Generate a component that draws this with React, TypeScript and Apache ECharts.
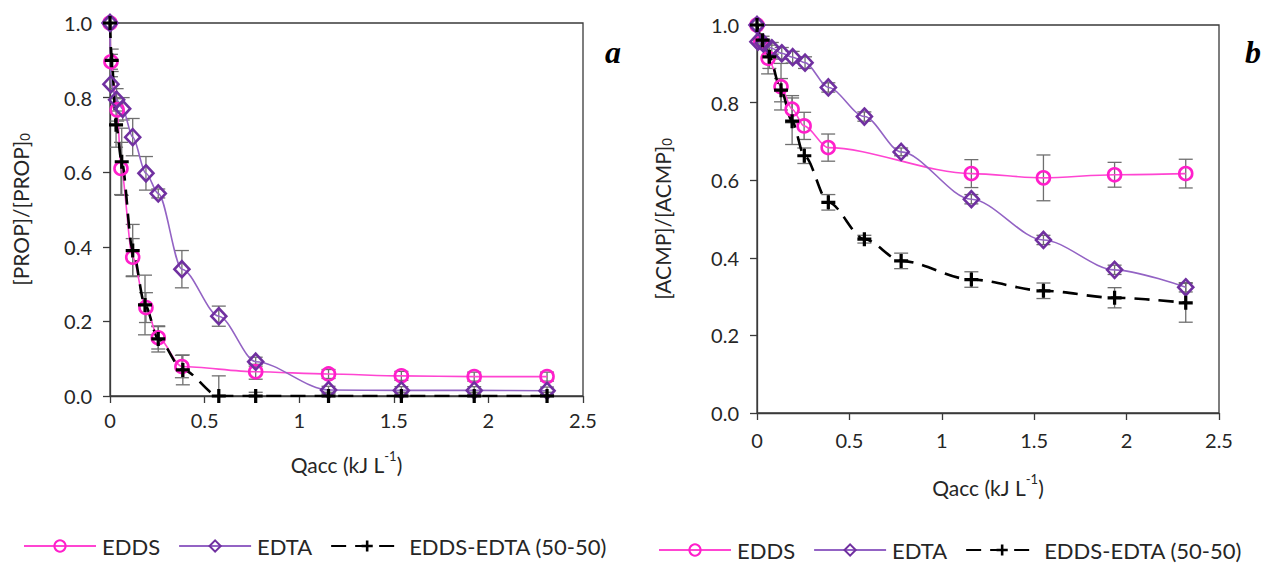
import React, { useEffect, useRef } from 'react';
import * as echarts from 'echarts';

// ---- Panel a: [PROP]/[PROP]0 vs accumulated energy ----
const propEddsX = [0, 0.005, 0.038, 0.058, 0.12, 0.19, 0.255, 0.38, 0.77, 1.155, 1.54, 1.925, 2.31];
const propEddsY = [1.0, 0.896, 0.767, 0.61, 0.372, 0.237, 0.156, 0.079, 0.065, 0.059, 0.054, 0.052, 0.052];
const propEddsErr = [0, 0.02, 0.03, 0.07, 0.05, 0.04, 0.03, 0.03, 0.02, 0.012, 0.012, 0.012, 0.012];

const propEdtaX = [0, 0.005, 0.035, 0.067, 0.12, 0.19, 0.255, 0.38, 0.575, 0.77, 1.155, 1.54, 1.925, 2.31];
const propEdtaY = [1.0, 0.836, 0.794, 0.77, 0.694, 0.597, 0.543, 0.34, 0.214, 0.092, 0.016, 0.015, 0.015, 0.014];
const propEdtaErr = [0, 0.02, 0.03, 0.03, 0.05, 0.045, 0.012, 0.05, 0.027, 0.012, 0.01, 0.01, 0.01, 0.01];

const propMixX = [0, 0.009, 0.032, 0.062, 0.12, 0.185, 0.255, 0.385, 0.575, 0.77, 1.155, 1.54, 1.925, 2.31];
const propMixY = [1.0, 0.9, 0.727, 0.628, 0.39, 0.244, 0.153, 0.07, 0.0, 0.0, 0.0, 0.0, 0.0, 0.0];
const propMixErr = [0, 0.03, 0.06, 0.09, 0.07, 0.08, 0.035, 0.04, 0.054, 0.01, 0.01, 0.01, 0.01, 0.01];

// ---- Panel b: [ACMP]/[ACMP]0 vs accumulated energy ----
const acmpEddsX = [0, 0.02, 0.06, 0.13, 0.19, 0.255, 0.385, 1.16, 1.55, 1.935, 2.32];
const acmpEddsY = [1.0, 0.955, 0.914, 0.841, 0.783, 0.74, 0.684, 0.617, 0.606, 0.614, 0.617];
const acmpEddsErr = [0, 0.01, 0.04, 0.06, 0.035, 0.035, 0.035, 0.036, 0.059, 0.032, 0.037];

const acmpEdtaX = [0, 0.005, 0.034, 0.08, 0.134, 0.193, 0.26, 0.386, 0.581, 0.78, 1.16, 1.55, 1.935, 2.32];
const acmpEdtaY = [1.0, 0.957, 0.953, 0.94, 0.927, 0.917, 0.903, 0.839, 0.764, 0.673, 0.551, 0.446, 0.369, 0.324];
const acmpEdtaErr = [0, 0.01, 0.01, 0.015, 0.015, 0.015, 0.015, 0.012, 0.012, 0.01, 0.012, 0.012, 0.012, 0.012];

const acmpMixX = [0, 0.03, 0.067, 0.13, 0.19, 0.256, 0.386, 0.581, 0.78, 1.16, 1.55, 1.935, 2.32];
const acmpMixY = [1.0, 0.961, 0.918, 0.832, 0.752, 0.663, 0.543, 0.448, 0.392, 0.344, 0.315, 0.297, 0.284];
const acmpMixErr = [0, 0.01, 0.03, 0.03, 0.06, 0.02, 0.02, 0.01, 0.02, 0.02, 0.02, 0.026, 0.05];

const seriesNames = ['EDDS', 'EDTA', 'EDDS-EDTA (50-50)'];
const panelLetters = ['a', 'b'];

const PINK_LINE = '#FF45D2';
const PINK_MARK = '#FF1FCB';
const PURPLE_LINE = '#9363C4';
const PURPLE_MARK = '#7030A0';
const TEXT = '#262626';
const AXIS = '#3a3a3a';
const FONT = 'Lato';

const pairs = (xs: number[], ys: number[]) => xs.map((x, i) => [x, ys[i]]);
const triples = (xs: number[], ys: number[], es: number[]) => xs.map((x, i) => [x, ys[i], es[i]]);

const PLUS = 'path://M5,0H8V5H13V8H8V13H5V8H0V5H5Z';

function errorBars(name: string, idx: number, data: number[][]) {
  return {
    type: 'custom',
    name,
    xAxisIndex: idx,
    yAxisIndex: idx,
    data,
    clip: true,
    silent: true,
    z: 1,
    encode: { x: 0, y: 1 },
    renderItem: (_params: any, api: any) => {
      const x = api.value(0);
      const y = api.value(1);
      const e = api.value(2);
      if (!e) return null;
      const top = api.coord([x, y + e]);
      const bot = api.coord([x, y - e]);
      const h = 7;
      const style = { stroke: '#6f6f6f', lineWidth: 1.3, fill: null };
      return {
        type: 'group',
        children: [
          { type: 'line', shape: { x1: top[0], y1: top[1], x2: bot[0], y2: bot[1] }, style },
          { type: 'line', shape: { x1: top[0] - h, y1: top[1], x2: top[0] + h, y2: top[1] }, style },
          { type: 'line', shape: { x1: bot[0] - h, y1: bot[1], x2: bot[0] + h, y2: bot[1] }, style },
        ],
      };
    },
  };
}

function lineSeries(kind: number, idx: number, data: number[][]) {
  const base: any = {
    type: 'line',
    name: seriesNames[kind],
    xAxisIndex: idx,
    yAxisIndex: idx,
    data,
    smooth: 0.3,
    smoothMonotone: 'x',
    showSymbol: true,
    clip: true,
    z: 3,
  };
  if (kind === 0) {
    base.symbol = 'circle';
    base.symbolSize = 13;
    base.lineStyle = { color: PINK_LINE, width: 1.6 };
    base.itemStyle = { color: 'rgba(255,255,255,0)', borderColor: PINK_MARK, borderWidth: 2.6 };
  } else if (kind === 1) {
    base.symbol = 'diamond';
    base.symbolSize = [15, 16];
    base.lineStyle = { color: PURPLE_LINE, width: 1.6 };
    base.itemStyle = { color: 'rgba(255,255,255,0)', borderColor: PURPLE_MARK, borderWidth: 2.6 };
  } else {
    base.symbol = PLUS;
    base.symbolSize = 14;
    base.lineStyle = { color: '#000', width: 2.6, type: [15, 9] };
    base.itemStyle = { color: '#000', borderWidth: 0 };
  }
  return base;
}

function xAxis(idx: number, nameGap: number, labelMargin: number) {
  return {
    type: 'value',
    gridIndex: idx,
    min: 0,
    max: 2.5,
    interval: 0.5,
    axisLine: { show: true, onZero: false, lineStyle: { color: AXIS, width: 1.3 } },
    axisTick: { show: true, length: 7, lineStyle: { color: AXIS, width: 1.3 } },
    splitLine: { show: false },
    axisLabel: { fontSize: 20, fontFamily: FONT, color: TEXT, margin: labelMargin, formatter: (v: number) => String(v) },
    name: '{m|Qacc (kJ L}{p|-1}{m|)}',
    nameLocation: 'middle',
    nameGap,
    nameTextStyle: {
      fontFamily: FONT,
      fontSize: 21,
      color: TEXT,
      rich: {
        m: { fontFamily: FONT, fontSize: 21, color: TEXT, lineHeight: 26, verticalAlign: 'bottom' },
        p: { fontFamily: FONT, fontSize: 13, color: TEXT, lineHeight: 13, verticalAlign: 'top' },
      },
    },
  };
}

function yAxis(idx: number, label: string, nameGap: number) {
  return {
    type: 'value',
    gridIndex: idx,
    min: 0,
    max: 1,
    interval: 0.2,
    axisLine: { show: true, onZero: false, lineStyle: { color: AXIS, width: 1.3 } },
    axisTick: { show: true, length: 7, lineStyle: { color: AXIS, width: 1.3 } },
    splitLine: { show: false },
    axisLabel: { fontSize: 20, fontFamily: FONT, color: TEXT, margin: 18, formatter: (v: number) => v.toFixed(1) },
    name: `{m|[${label}]/[${label}]}{s|0}`,
    nameLocation: 'middle',
    nameGap,
    nameTextStyle: {
      fontFamily: FONT,
      fontSize: 21,
      color: TEXT,
      rich: {
        m: { fontFamily: FONT, fontSize: 21, color: TEXT, lineHeight: 26, verticalAlign: 'bottom' },
        s: { fontFamily: FONT, fontSize: 13, color: TEXT, lineHeight: 11, verticalAlign: 'bottom' },
      },
    },
  };
}

function legend(left: number, top: number) {
  return {
    left,
    top,
    orient: 'horizontal',
    itemWidth: 72,
    itemHeight: 14,
    itemGap: 18,
    selectedMode: false,
    textStyle: { fontSize: 22, fontFamily: FONT, color: TEXT, padding: [0, 0, 0, 1] },
    data: seriesNames,
  };
}

export default function App() {
  const ref = useRef<HTMLDivElement>(null);

  useEffect(() => {
    if (!ref.current) return;
    const chart = echarts.init(ref.current, null, { renderer: 'svg' });
    const gridStyle = { show: true, borderColor: AXIS, borderWidth: 1.3, backgroundColor: 'transparent', containLabel: false };
    chart.setOption({
      animation: false,
      backgroundColor: '#ffffff',
      grid: [
        { ...gridStyle, left: 110, top: 23, width: 473, height: 373 },
        { ...gridStyle, left: 757, top: 25, width: 462, height: 388 },
      ],
      xAxis: [xAxis(0, 53, 14), xAxis(1, 59, 17)],
      yAxis: [yAxis(0, 'PROP', 79), yAxis(1, 'ACMP', 84)],
      legend: [legend(18, 530), legend(653, 534)],
      graphic: [
        {
          type: 'text', x: 605, y: 52,
          style: { text: panelLetters[0], font: 'italic bold 32px "Liberation Serif"', fill: '#000', verticalAlign: 'middle' },
        },
        {
          type: 'text', x: 1245, y: 52,
          style: { text: panelLetters[1], font: 'italic bold 32px "Liberation Serif"', fill: '#000', verticalAlign: 'middle' },
        },
      ],
      series: [
        errorBars('EDDS err a', 0, triples(propEddsX, propEddsY, propEddsErr)),
        errorBars('EDTA err a', 0, triples(propEdtaX, propEdtaY, propEdtaErr)),
        errorBars('Mix err a', 0, triples(propMixX, propMixY, propMixErr)),
        lineSeries(0, 0, pairs(propEddsX, propEddsY)),
        lineSeries(1, 0, pairs(propEdtaX, propEdtaY)),
        lineSeries(2, 0, pairs(propMixX, propMixY)),
        errorBars('EDDS err b', 1, triples(acmpEddsX, acmpEddsY, acmpEddsErr)),
        errorBars('EDTA err b', 1, triples(acmpEdtaX, acmpEdtaY, acmpEdtaErr)),
        errorBars('Mix err b', 1, triples(acmpMixX, acmpMixY, acmpMixErr)),
        lineSeries(0, 1, pairs(acmpEddsX, acmpEddsY)),
        lineSeries(1, 1, pairs(acmpEdtaX, acmpEdtaY)),
        lineSeries(2, 1, pairs(acmpMixX, acmpMixY)),
      ],
    });
    return () => chart.dispose();
  }, []);

  return (
    <div
      ref={ref}
      style={{ position: 'absolute', left: 0, top: 0, width: 1275, height: 566, background: '#fff' }}
    />
  );
}
